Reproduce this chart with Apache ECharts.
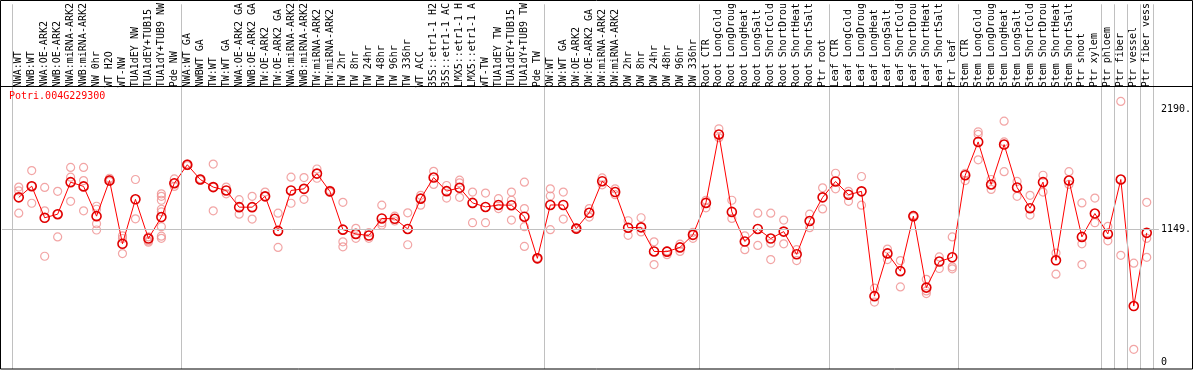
<!DOCTYPE html>
<html>
<head>
<meta charset="utf-8">
<script src="https://cdn.jsdelivr.net/npm/echarts@6/dist/echarts.min.js"></script>
<style>
html,body{margin:0;padding:0;background:#fff;}
#chart{width:1194px;height:370px;}
</style>
</head>
<body>
<div id="chart"></div>
<script>
const geneTitle = 'Potri.004G229300';

const categories = [
  'NWA:WT','NWB:WT','NWA:OE-ARK2','NWB:OE-ARK2','NWA:miRNA-ARK2','NWB:miRNA-ARK2','NW 0hr','WT H2O','WT-NW','TUA1dEY NW','TUA1dEY+TUB15','TUA1dY+TUB9 NW','Pde NW',
  'NWA:WT GA','NWBWT GA','TW:WT','TW:WT GA','NWA:OE-ARK2 GA','NWB:OE-ARK2 GA','TW:OE-ARK2','TW:OE-ARK2 GA','NWA:miRNA-ARK2','NWB:miRNA-ARK2','TW:miRNA-ARK2','TW:miRNA-ARK2',
  'TW 2hr','TW 8hr','TW 24hr','TW 48hr','TW 96hr','TW 336hr','WT ACC','35S::etr1-1 H2','35S::etr1-1 AC','LMX5::etr1-1 H','LMX5::etr1-1 A','WT-TW','TUA1dEY TW','TUA1dEY+TUB15','TUA1dY+TUB9 TW','Pde TW',
  'OW:WT','OW:WT GA','OW:OE-ARK2','OW:OE-ARK2 GA','OW:miRNA-ARK2','OW:miRNA-ARK2','OW 2hr','OW 8hr','OW 24hr','OW 48hr','OW 96hr','OW 336hr',
  'Root CTR','Root LongCold','Root LongDroug','Root LongHeat','Root LongSalt','Root ShortCold','Root ShortDrou','Root ShortHeat','Root ShortSalt','Ptr root',
  'Leaf CTR','Leaf LongCold','Leaf LongDroug','Leaf LongHeat','Leaf LongSalt','Leaf ShortCold','Leaf ShortDrou','Leaf ShortHeat','Leaf ShortSalt','Ptr leaf',
  'Stem CTR','Stem LongCold','Stem LongDroug','Stem LongHeat','Stem LongSalt','Stem ShortCold','Stem ShortDrou','Stem ShortHeat','Stem ShortSalt','Ptr shoot','Ptr xylem',
  'Ptr phloem','Ptr fiber','Ptr vessel','Ptr fiber vess'
];

const meanValues = [
  1429,1526,1252,1283,1561,1524,1266,1575,1026,1412,1072,1258,1552,
  1712,1584,1518,1489,1344,1344,1438,1138,1489,1503,1635,1481,1149,1112,1098,1246,1243,1155,1418,1601,1483,1512,1381,1346,1363,1361,1261,900,
  1363,1363,1158,1295,1569,1475,1166,1169,960,958,995,1104,
  1381,1975,1303,1046,1155,1072,1132,935,1224,1429,
  1567,1452,1481,572,943,789,1266,646,872,909,
  1621,1910,1541,1887,1515,1335,1561,883,1575,1086,1289,
  1112,1584,486,1121
];

const replicateValues = [
  [1518,1486,1292],[1661,1526,1378],[1515,1312,918],[1481,1283,1086],[1689,1604,1395],[1689,1575,1312],
  [1352,1326,1200,1146],[1595,1584,1567],[1095,1072,941],[1584,1243],[1086,1052,1040],
  [1460,1438,1404,1326,1303,1175,1092,1074],[1589,1552,1524],
  [1720,1705],[1590,1578],[1718,1518,1312],[1518,1460],[1409,1283],[1438,1241],[1475,1438],[1292,995],
  [1604,1378],[1601,1412],[1675,1595],[1490,1472],[1386,1043,1000],[1160,1074],[1123,1074],[1361,1209,1189],
  [1266,1224],[1295,1018],[1447,1361],[1655,1541],[1532,1423],[1578,1555,1429],[1475,1209],[1466,1209],
  [1418,1332],[1475,1404,1232],[1561,1332,1175,1003],[905,895],
  [1503,1441,1149],[1475,1241],[1165,1150],[1332,1258],[1598,1538],[1503,1452],[1226,1100],[1252,1129],
  [1043,846],[932,965],[1023,960],[1126,1074],
  [1404,1338],[2024,1947],[1404,1246],[1095,975],[1292,1012],[1292,1032,889],[1232,1026],[975,881],[1283,1166],[1512,1329],
  [1638,1503],[1481,1395],[1610,1361],[641,521],[980,889],[881,652],[1272,1260],[718,617,594],[912,812],[1086,826,809],
  [1638,1575],[1998,1975,1755],[1584,1498],[2090,1910,1652],[1567,1438],[1447,1275],[1621,1475],[946,763],[1652,1541],[1381,1026,846],[1423,1209],
  [1177,1052],[2261,926],[858,111],[1386,1074,909]
];

// first category index of each group (separator drawn before it), plus end
const groupStarts = [0,13,41,53,63,73,84,85,86,87,88];

const yTickValues = [0,1149,2190];
const yTickLabels = ['0','1149.','2190.'];
const refLineValue = 1149;

const FONT = 'DejaVu Sans Mono';
const XMIN = -1.2923, XMAX = 87.9385;

const meanData = meanValues.map((v,i)=>[i,v]);
const repData = [];
replicateValues.forEach((arr,i)=>arr.forEach(v=>repData.push([i,v])));

const markLines = groupStarts.map(s=>({xAxis: s-0.5}));
markLines.push({yAxis: refLineValue});

const chart = echarts.init(document.getElementById('chart'), null, {renderer:'canvas'});
chart.setOption({
  animation:false,
  backgroundColor:'#ffffff',
  title:{
    text: geneTitle, left: 9, top: 91, padding:0,
    textStyle:{color:'#ff0000', fontSize:10, fontWeight:'normal', fontFamily:FONT}
  },
  grid:{left:2, right:32, top:0, bottom:1, containLabel:false},
  xAxis:{
    type:'value', position:'top', offset:-86, min:XMIN, max:XMAX,
    axisLine:{show:false}, axisTick:{show:false}, splitLine:{show:false},
    axisLabel:{
      customValues: categories.map((c,i)=>i),
      formatter: v => categories[Math.round(v)] || '',
      rotate:90, fontSize:10, fontFamily:FONT, color:'#000', margin:3,
      showMinLabel:true, showMaxLabel:true
    }
  },
  yAxis:{
    type:'value', position:'right', min:-60, max:3104,
    axisLine:{show:false}, axisTick:{show:false}, splitLine:{show:false},
    axisLabel:{
      customValues: yTickValues,
      formatter: v => yTickLabels[yTickValues.indexOf(v)] ?? String(v),
      fontSize:10, fontFamily:FONT, color:'#000', margin:2,
      showMinLabel:true, showMaxLabel:true
    }
  },
  graphic:[
    {type:'rect', shape:{x:0.5,y:0.5,width:1192,height:368.5}, style:{fill:null, stroke:'#000', lineWidth:1}, z:100, silent:true},
    {type:'line', shape:{x1:0,y1:86.5,x2:1193,y2:86.5}, style:{stroke:'#000', lineWidth:1}, z:100, silent:true}
  ],
  series:[
    {
      type:'scatter', data: repData, symbol:'circle', symbolSize:8,
      itemStyle:{color:'rgba(0,0,0,0)', borderColor:'#ef8f8f', borderWidth:1.2},
      z:2, silent:true,
      markLine:{
        silent:true, symbol:'none', animation:false,
        label:{show:false},
        lineStyle:{color:'#c0c0c0', width:1, type:'solid'},
        emphasis:{disabled:true},
        data: markLines
      }
    },
    {
      type:'line', data: meanData, symbol:'circle', symbolSize:9,
      lineStyle:{color:'#ff0000', width:1},
      itemStyle:{color:'rgba(0,0,0,0)', borderColor:'#e00000', borderWidth:1.6},
      z:3, silent:true
    }
  ]
});
</script>
</body>
</html>
